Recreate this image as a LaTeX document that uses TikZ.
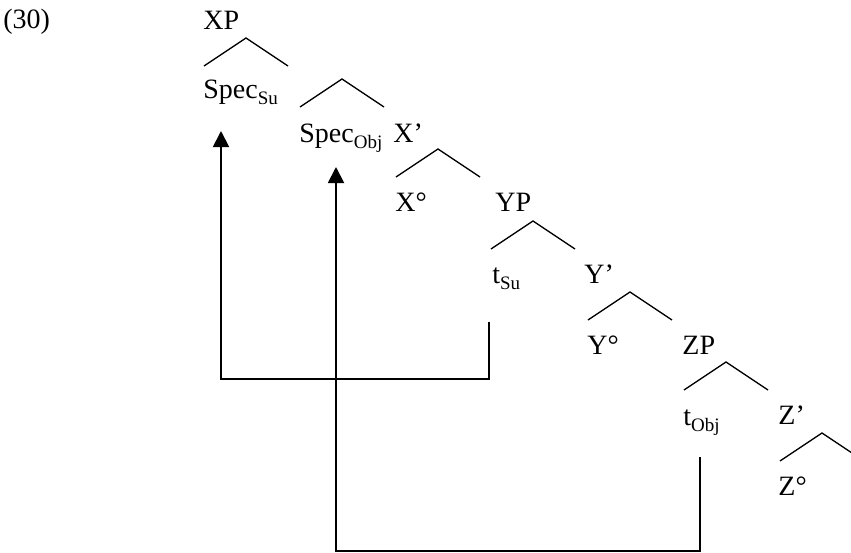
\documentclass[tikz,border=0pt]{standalone}
\usepackage{fontspec}
\setmainfont{Liberation Serif}
\usepackage{tikz}
\usetikzlibrary{positioning,arrows.meta}
\newcommand{\lsub}[1]{\raisebox{-0.22em}{\fontsize{9.5}{10}\selectfont #1}}

\begin{document}
\begin{tikzpicture}[x=0.5pt, y=-0.5pt, font=\fontsize{14}{16}\selectfont,
    lbl/.style={anchor=base west, inner sep=0pt},
    tree/.style={line width=0.65pt},
    mv/.style={line width=0.95pt, -{Triangle[length=8pt, width=8pt]}}]
  \useasboundingbox (0,0) rectangle (851,552);
  \clip (0,0) rectangle (851,552);
  % labels
  \node[lbl] (ex)      at (3,28)    {(30)};
  \node[lbl] (xp)      at (203,29)  {XP};
  \node[lbl] (specsu)  at (203,98)  {Spec\lsub{Su}};
  \node[lbl] (specobj) at (299,142) {Spec\lsub{Obj}};
  \node[lbl] (xbar)    at (393,142) {X’};
  \node[lbl] (xzero)   at (395,211) {X°};
  \node[lbl] (yp)      at (495,211) {YP};
  \node[lbl] (tsu)     at (492,283) {t\lsub{Su}};
  \node[lbl] (ybar)    at (584,283) {Y’};
  \node[lbl] (yzero)   at (587,354) {Y°};
  \node[lbl] (zp)      at (682,354) {ZP};
  \node[lbl] (tobj)    at (683,425) {t\lsub{Obj}};
  \node[lbl] (zbar)    at (778,424) {Z’};
  \node[lbl] (zzero)   at (778,495) {Z°};
  % branches
  \foreach \x/\y in {246/38, 342/79, 438/149, 533/221, 630/292, 726/362, 822/433}{
    \coordinate (w\x) at (\x,\y);
    \draw[tree] ([shift={(-42,28)}]w\x) -- (w\x) -- ([shift={(42,28)}]w\x);
  }
  % movement
  \coordinate (su-from)  at (489,322);
  \coordinate (su-to)    at (221,131);
  \coordinate (obj-from) at (700,457);
  \coordinate (obj-to)   at (336,167);
  \draw[mv] (su-from) -- ++(0,57) -| (su-to);
  \draw[mv] (obj-from) -- ++(0,94) -| (obj-to);
\end{tikzpicture}
\end{document}
